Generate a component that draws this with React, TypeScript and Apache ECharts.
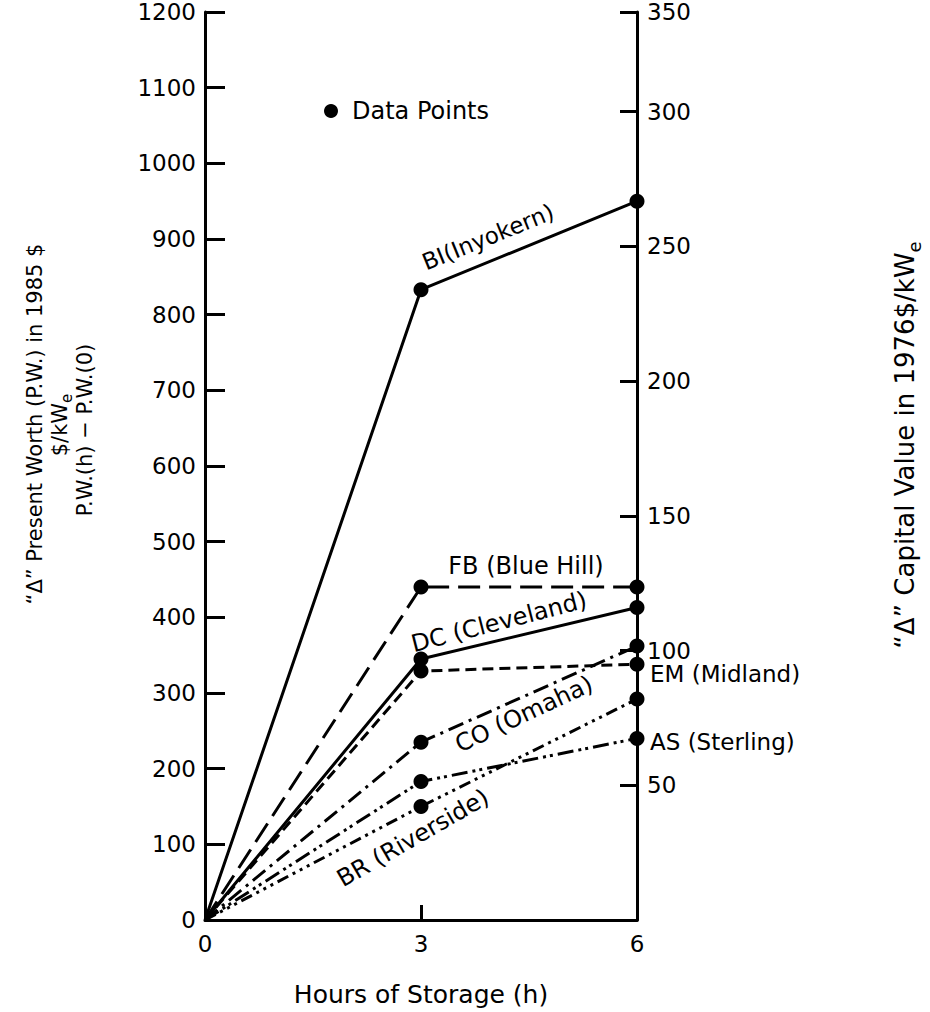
import React, { useEffect, useRef } from "react";
import * as echarts from "echarts";

const hours = [0, 3, 6];
const BI = [0, 833, 950];
const FB = [0, 440, 440];
const DC = [0, 345, 413];
const EM = [0, 329, 338];
const CO = [0, 235, 362];
const AS = [0, 183, 240];
const BR = [0, 150, 292];

const leftMin = 0;
const leftMax = 1200;
const leftStep = 100;
const rightMin = 0;
const rightMax = 337;
const rightStep = 50;
const rightTopLabel = "350";

const FONT = "DejaVu Sans, Liberation Sans, Arial, sans-serif";

const mk = (name: string, vals: number[], dash: any) => ({
  name,
  type: "line",
  yAxisIndex: 0,
  data: hours.map((h, i) =>
    i === 0 ? { value: [h, vals[i]], symbol: "none" } : [h, vals[i]]
  ),
  symbol: "circle",
  symbolSize: 15,
  itemStyle: { color: "#000" },
  lineStyle: { color: "#000", width: 3, type: dash },
  z: 3,
});

export default function App() {
  const ref = useRef<HTMLDivElement>(null);
  useEffect(() => {
    if (!ref.current) return;
    const chart = echarts.init(ref.current, null, { renderer: "svg" });
    const txt = (
      text: string,
      x: number,
      y: number,
      rot: number,
      size: number,
      align = "center"
    ) => ({
      type: "text",
      x,
      y,
      rotation: (rot * Math.PI) / 180,
      style: {
        text,
        fill: "#000",
        font: `${size}px ${FONT}`,
        align,
        verticalAlign: "middle",
      },
      z: 10,
    });
    const subTxt = (
      main: string,
      sub: string,
      x: number,
      y: number,
      size: number
    ) => ({
      type: "text",
      x,
      y,
      rotation: Math.PI / 2,
      style: {
        text: `{n|${main}}{s|${sub}}`,
        fill: "#000",
        align: "center",
        verticalAlign: "middle",
        rich: {
          n: { fontSize: size, fontFamily: FONT, lineHeight: Math.round(size * 1.4), fill: "#000" },
          s: {
            fontSize: Math.round(size * 0.7),
            fontFamily: FONT,
            lineHeight: Math.round(size * 0.75),
            verticalAlign: "bottom",
            fill: "#000",
          },
        },
      },
      z: 10,
    });
    chart.setOption({
      animation: false,
      backgroundColor: "#fff",
      grid: { left: 205, right: 293, top: 12, bottom: 91 },
      xAxis: {
        type: "value",
        min: 0,
        max: 6,
        interval: 3,
        name: "Hours of Storage (h)",
        nameLocation: "middle",
        nameGap: 62,
        nameTextStyle: { color: "#000", fontSize: 25, fontFamily: FONT },
        axisLine: { lineStyle: { color: "#000", width: 3 } },
        axisTick: { inside: true, length: 15, lineStyle: { color: "#000", width: 3 } },
        axisLabel: { color: "#000", fontSize: 23, fontFamily: FONT, margin: 12 },
        splitLine: { show: false },
      },
      yAxis: [
        {
          type: "value",
          min: leftMin,
          max: leftMax,
          interval: leftStep,
          position: "left",
          axisLine: { show: true, lineStyle: { color: "#000", width: 3 } },
          axisTick: { show: true, inside: true, length: 20, lineStyle: { color: "#000", width: 3 } },
          axisLabel: {
            color: "#000",
            fontSize: 23,
            fontFamily: FONT,
            margin: 9,
            formatter: (v: number) => String(v),
          },
          splitLine: { show: false },
        },
        {
          type: "value",
          min: rightMin,
          max: rightMax,
          interval: rightStep,
          position: "right",
          axisLine: { show: true, lineStyle: { color: "#000", width: 3 } },
          axisTick: { show: true, inside: true, length: 17, lineStyle: { color: "#000", width: 3 } },
          axisLabel: {
            color: "#000",
            fontSize: 23,
            fontFamily: FONT,
            margin: 10,
            formatter: (v: number) =>
              v === rightMin ? "" : v >= rightMax ? rightTopLabel : String(v),
          },
          splitLine: { show: false },
        },
      ],
      series: [
        mk("BI", BI, "solid"),
        mk("FB", FB, [22, 9]),
        mk("DC", DC, "solid"),
        mk("EM", EM, [11, 6]),
        mk("CO", CO, [16, 6, 3, 6]),
        mk("AS", AS, [16, 5, 3, 4, 3, 5]),
        mk("BR", BR, [12, 5, 3, 5, 3, 5, 3, 5]),
      ],
      graphic: [
        { type: "circle", shape: { cx: 331, cy: 111, r: 7 }, style: { fill: "#000" } },
        txt("Data Points", 352, 111, 0, 24, "left"),
        txt("BI(Inyokern)", 488, 237, 22, 23),
        txt("FB (Blue Hill)", 526, 566, 0, 24),
        txt("DC (Cleveland)", 499, 622, 14.5, 24),
        txt("EM (Midland)", 650, 674, 0, 23, "left"),
        txt("AS (Sterling)", 650, 742, 0, 23, "left"),
        txt("CO (Omaha)", 524, 714, 25, 24),
        txt("BR (Riverside)", 413, 838, 30, 24),
        txt("\u201C\u0394\u201D Present Worth (P.W.) in 1985 $", 35, 424, 90, 21),
        subTxt("$/kW", "e", 60, 425, 21),
        txt("P.W.(h) \u2212 P.W.(0)", 85, 430, 90, 21),
        subTxt("\u201C\u0394\u201D Capital Value in 1976$/kW", "e", 905, 445, 26),
      ],
    });
    return () => chart.dispose();
  }, []);
  return (
    <div
      ref={ref}
      style={{ position: "fixed", left: 0, top: 0, width: 930, height: 1012, background: "#fff" }}
    />
  );
}
